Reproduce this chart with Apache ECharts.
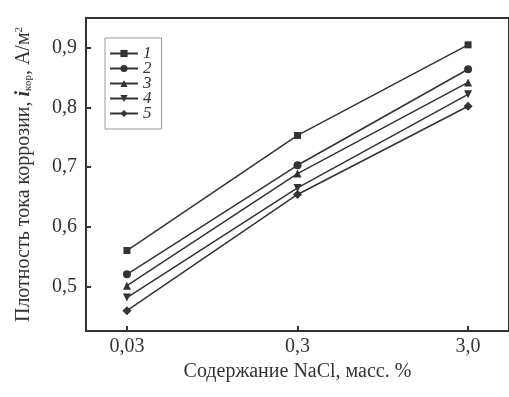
<!DOCTYPE html>
<html><head><meta charset="utf-8">
<script src="https://cdn.jsdelivr.net/npm/echarts@6/dist/echarts.min.js"></script>
<style>html,body{margin:0;padding:0;background:#fff}#c{width:509px;height:397px}</style>
</head><body><div id="c"></div>
<script>
const categories = ['0,03', '0,3', '3,0'];
const seriesNames = ['1', '2', '3', '4', '5'];
const s1 = [0.560, 0.753, 0.905];
const s2 = [0.520, 0.703, 0.864];
const s3 = [0.501, 0.689, 0.842];
const s4 = [0.481, 0.665, 0.822];
const s5 = [0.459, 0.654, 0.802];
const yTicks = [0.5, 0.6, 0.7, 0.8, 0.9];
const symbols = ['rect', 'circle', 'triangle', 'path://M0,0 L10,0 L5,9 Z', 'diamond'];
const symSizes = [7, 8, 8, 8, 9];
const values = [s1, s2, s3, s4, s5];

const col = '#333';
const font = 'Liberation Serif';
const chart = echarts.init(document.getElementById('c'));
chart.setOption({
  animation: false,
  backgroundColor: '#fff',
  grid: {left: 86, right: -1, top: 18, bottom: 66, show: true, borderColor: col, borderWidth: 2},
  legend: {
    orient: 'vertical', left: 105, top: 38, padding: [7, 10, 7, 4],
    borderColor: '#999', borderWidth: 1, itemWidth: 28, itemHeight: 9, itemGap: -2,
    textStyle: {fontFamily: font, fontSize: 17, fontStyle: 'italic', color: col, padding: [0, 0, 0, 0]},
    data: seriesNames
  },
  xAxis: {
    type: 'value', min: -0.24, max: 2.24,
    name: 'Содержание NaCl, масс. %', nameLocation: 'middle', nameGap: 28,
    nameTextStyle: {fontFamily: font, fontSize: 20, color: col},
    axisLine: {onZero: false, lineStyle: {color: col, width: 2}},
    axisTick: {inside: true, length: 5, lineStyle: {color: col, width: 2}, customValues: [0, 1, 2]},
    axisLabel: {fontFamily: font, fontSize: 20, color: col, margin: 6, customValues: [0, 1, 2],
      formatter: v => categories[Math.round(v)]},
    splitLine: {show: false}
  },
  yAxis: {
    type: 'value', min: 0.425, max: 0.95,
    name: '{n|Плотность тока коррозии, }{i|i}{s|кор}{n|, А/м}{sup|2}',
    nameLocation: 'middle', nameGap: 52, nameRotate: 90,
    nameTextStyle: {
      fontFamily: font, fontSize: 20, color: col,
      rich: {
        n: {fontFamily: font, fontSize: 20, color: col},
        i: {fontFamily: font, fontSize: 20, color: col, fontStyle: 'italic', fontWeight: 'bold'},
        s: {fontFamily: font, fontSize: 11, color: col, verticalAlign: 'bottom', padding: [7, 0, 0, 0]},
        sup: {fontFamily: font, fontSize: 11, color: col, verticalAlign: 'top', padding: [0, 0, 9, 0]}
      }
    },
    axisLine: {onZero: false, lineStyle: {color: col, width: 2}},
    axisTick: {inside: true, length: 5, lineStyle: {color: col, width: 2}, customValues: yTicks},
    axisLabel: {fontFamily: font, fontSize: 20, color: col, margin: 9, customValues: yTicks,
      formatter: v => v.toFixed(1).replace('.', ',')},
    splitLine: {show: false}
  },
  series: values.map((vals, k) => ({
    name: seriesNames[k], type: 'line',
    data: vals.map((v, i) => [i, v]),
    symbol: symbols[k], symbolSize: symSizes[k],
    itemStyle: {color: col},
    lineStyle: {color: col, width: 1.5}
  }))
});
</script></body></html>
